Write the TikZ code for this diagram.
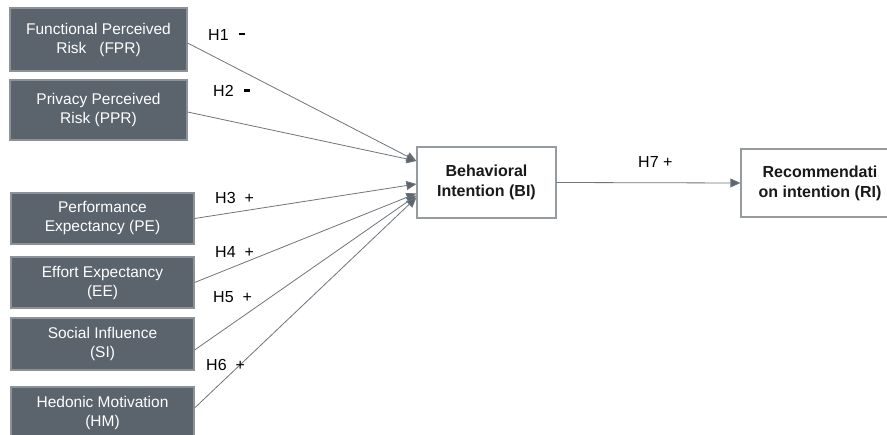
\documentclass[tikz,border=0pt]{standalone}
\usepackage{fontspec}
\setmainfont{Liberation Sans}
\usetikzlibrary{arrows.meta}
\definecolor{boxfill}{RGB}{91,99,108}
\definecolor{boxedge}{RGB}{140,146,152}
\definecolor{linecol}{RGB}{110,117,125}
\definecolor{arrowcol}{RGB}{92,100,110}
\definecolor{whiteedge}{RGB}{150,155,160}
\newcommand{\negsign}{\rule[5pt]{6.5pt}{2.6pt}}
\begin{document}
\begin{tikzpicture}[x=1pt,y=-1pt,
  srcbox/.style={draw=boxedge, line width=1.2pt, fill=boxfill, text=white, align=center,
    inner sep=0pt, font=\fontsize{15.5}{19}\selectfont},
  tgtbox/.style={draw=whiteedge, line width=1.2pt, fill=white, text=black!90, align=center,
    inner sep=0pt, font=\fontsize{16}{20}\selectfont\bfseries},
  conn/.style={draw=linecol, line width=0.8pt, -{Triangle[length=10pt,width=9pt,fill=arrowcol]}},
  hlab/.style={anchor=west, inner sep=0pt, font=\fontsize{16}{19}\selectfont}]
\useasboundingbox (0,0) rectangle (887,435);
\clip (0,0) rectangle (887,435);
\fill[white] (0,0) rectangle (887,435);

\node[srcbox, minimum width=177pt, minimum height=63pt] (FPR) at (98.5,39.5) {Functional Perceived\\Risk~~~(FPR)};
\node[srcbox, minimum width=177pt, minimum height=60pt] (PPR) at (98.5,110) {Privacy Perceived\\Risk (PPR)};
\node[srcbox, minimum width=183pt, minimum height=51pt] (PE) at (102.5,218.5) {Performance\\Expectancy (PE)};
\node[srcbox, minimum width=183pt, minimum height=51pt] (EE) at (102.5,282.5) {Effort Expectancy\\(EE)};
\node[srcbox, minimum width=183pt, minimum height=52pt] (SI) at (102.5,344) {Social Influence\\(SI)};
\node[srcbox, minimum width=183pt, minimum height=52pt] (HM) at (102.5,413) {Hedonic Motivation\\(HM)};

\node[tgtbox, minimum width=139pt, minimum height=71pt] (BI) at (486.5,182.5) {Behavioral\\Intention (BI)};
\node[tgtbox, minimum width=158pt, minimum height=68pt] (RI) at (820,183) {Recommendati\\on intention (RI)};

\draw[conn] ([yshift=-3.5pt]FPR.east) -- ([yshift=21.5pt]BI.west);
\draw[conn] ([yshift=-2pt]PPR.east) -- ([yshift=21.5pt]BI.west);
\draw[conn] (PE.east) -- ([yshift=-1.5pt]BI.west);
\draw[conn] (EE.east) -- ([yshift=-11pt]BI.west);
\draw[conn] ([yshift=-6pt]SI.east) -- ([yshift=-13pt]BI.west);
\draw[conn] ([yshift=5pt]HM.east) -- ([yshift=-15pt]BI.west);
\draw[conn] (BI.east) -- (RI.west);

\node[hlab] (h1) at (208,35) {H1\hspace{10pt}\negsign};
\node[hlab] (h2) at (213,91) {H2\hspace{10pt}\negsign};
\node[hlab] (h3) at (215,198) {H3~~+};
\node[hlab] (h4) at (215,252) {H4~~+};
\node[hlab] (h5) at (213,297) {H5~~+};
\node[hlab] (h6) at (206,365) {H6~~+};
\node[hlab] (h7) at (638,162) {H7 +};
\end{tikzpicture}
\end{document}
